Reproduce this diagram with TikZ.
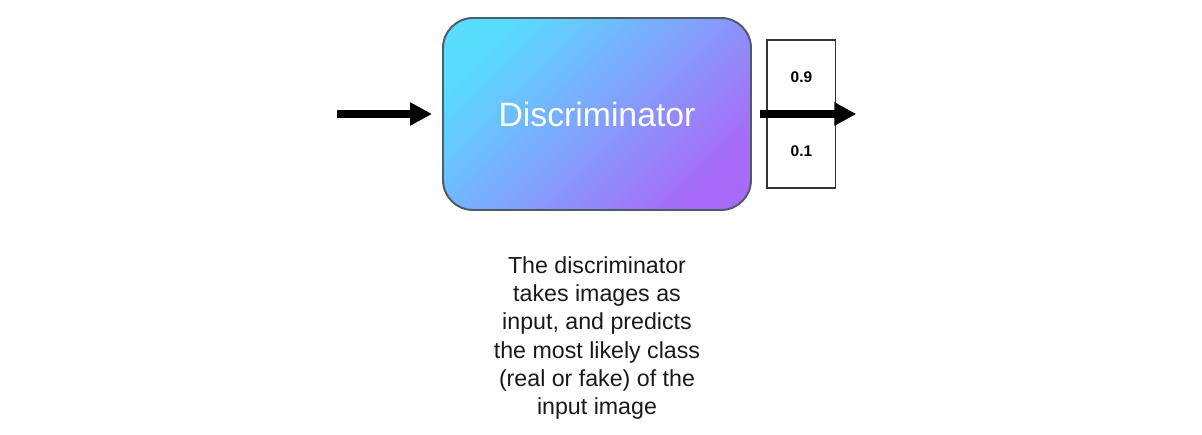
\documentclass[tikz,border=0pt]{standalone}
\usepackage{fontspec}
\setmainfont{Liberation Sans}
\usepackage{tikz}
\usetikzlibrary{positioning,arrows.meta}
\definecolor{gcyan}{HTML}{58DCFF}
\definecolor{gpurple}{HTML}{A86AF8}
\definecolor{gborder}{HTML}{4E5C6A}
\tikzset{
block/.style = {draw=gborder, line width=1.4pt, rectangle, rounded corners=0.75cm, minimum width=7.7cm, minimum height=4.8cm, top color=gcyan, bottom color=gpurple, shading angle=45, text=white, font=\fontsize{24}{28}\selectfont},
outbox/.style = {draw=black!80, line width=0.8pt, fill=white, rectangle, minimum width=1.72cm, minimum height=3.7cm, align=center, font=\bfseries\fontsize{11}{40}\selectfont},
caption/.style = {align=center, text=black!90, font=\fontsize{16.5}{20}\selectfont},
flow/.style = {line width=5pt}
}
\begin{document}
\begin{tikzpicture}[auto, node distance=5.1cm, >={Triangle[length=5.5mm,width=5.5mm]}]
    \useasboundingbox (-14.925,2.85) rectangle (15.125,-8);

    \node  [block] (disc) {Discriminator};
    \node  [outbox, right of=disc, node distance=5.11cm] (out) {0.9\\[0.44cm]0.1};
    \node  [caption, below of=disc, node distance=5.6cm] (desc)
      {The discriminator\\takes images as\\input, and predicts\\the most likely class\\(real or fake) of the\\input image};

    \coordinate [left of=disc, node distance=6.5cm] (in);

    \draw[->, flow, shorten >=0.25cm] (in) -- (disc.west);
    \draw[->, flow, shorten <=0.2cm, shorten >=-0.5cm] (disc.east) -- (out.east);

\end{tikzpicture}
\end{document}
